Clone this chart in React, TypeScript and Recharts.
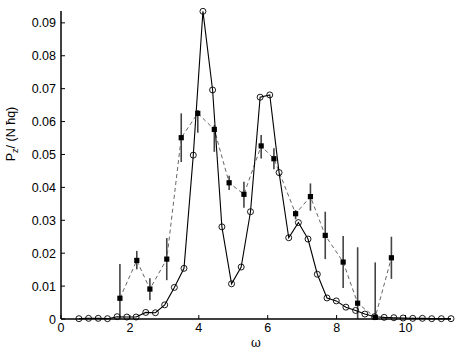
import React from 'react';
import { ComposedChart, Line, XAxis, YAxis, ErrorBar } from 'recharts';

// Theory curve (open circles, solid line)
const theoryX = [0.52, 0.80, 1.08, 1.35, 1.63, 1.91, 2.18, 2.46, 2.74, 3.01, 3.29, 3.57, 3.84, 4.12, 4.40, 4.67, 4.95, 5.23, 5.50, 5.78, 6.06, 6.33, 6.61, 6.89, 7.17, 7.44, 7.72, 7.99, 8.27, 8.55, 8.82, 9.10, 9.38, 9.66, 9.93, 10.21, 10.49, 10.76, 11.04, 11.32];
const theoryY = [0.0001, 0.0002, 0.0002, 0.0001, 0.0007, 0.0006, 0.0006, 0.0020, 0.0019, 0.0043, 0.0096, 0.0154, 0.0498, 0.0935, 0.0696, 0.0280, 0.0107, 0.0158, 0.0326, 0.0674, 0.0681, 0.0445, 0.0247, 0.0293, 0.0243, 0.0136, 0.0064, 0.0055, 0.0036, 0.0026, 0.0015, 0.0007, 0.0005, 0.0004, 0.0003, 0.0002, 0.0002, 0.0001, 0.0001, 0.0001];

// Measured points (filled squares, dashed line, error bars)
const measX = [1.71, 2.20, 2.58, 3.07, 3.49, 3.97, 4.45, 4.88, 5.31, 5.81, 6.18, 6.81, 7.24, 7.67, 8.19, 8.61, 9.12, 9.59];
const measY = [0.0063, 0.0178, 0.0091, 0.0182, 0.0551, 0.0625, 0.0576, 0.0414, 0.0379, 0.0526, 0.0487, 0.0320, 0.0372, 0.0254, 0.0173, 0.0048, 0.0005, 0.0186];
const measErrLow = [0.0063, 0.0027, 0.0034, 0.0064, 0.0074, 0.0059, 0.0068, 0.0022, 0.0041, 0.0038, 0.0032, 0.0017, 0.0043, 0.0072, 0.0079, 0.0048, 0.0005, 0.0064];
const measErrHigh = [0.0104, 0.0029, 0.0033, 0.0064, 0.0074, 0.0010, 0.0013, 0.0021, 0.0038, 0.0033, 0.0032, 0.0011, 0.0040, 0.0072, 0.0079, 0.0170, 0.0167, 0.0064];

const xTicks = [0, 2, 4, 6, 8, 10];
const yTicks = [0, 0.01, 0.02, 0.03, 0.04, 0.05, 0.06, 0.07, 0.08, 0.09];

const theoryData = theoryX.map((x, i) => ({ x, y: theoryY[i] }));
const measData = measX.map((x, i) => ({ x, y: measY[i], err: [measErrLow[i], measErrHigh[i]] }));

const FONT = 'Liberation Sans, Arial, Helvetica, sans-serif';

const XTick = (props: any) => {
  const { x, y, payload } = props;
  return (
    <g>
      <line x1={x} y1={y} x2={x} y2={y - 4} stroke="#000" strokeWidth={1} />
      <text x={x} y={y + 13} textAnchor="middle" fontSize={12.5} fontFamily={FONT} fill="#000">
        {payload.value}
      </text>
    </g>
  );
};

const YTick = (props: any) => {
  const { x, y, payload } = props;
  const v = payload.value;
  const label = v === 0 ? '0' : v.toFixed(2);
  return (
    <g>
      <line x1={x} y1={y} x2={x + 4} y2={y} stroke="#000" strokeWidth={1} />
      <text x={x - 5} y={y + 4.5} textAnchor="end" fontSize={12.5} fontFamily={FONT} fill="#000">
        {label}
      </text>
    </g>
  );
};

const YLabel = () => (
  <text
    x={15}
    y={134}
    transform="rotate(-90 15 134)"
    textAnchor="middle"
    fontSize={12.5}
    fontFamily={FONT}
    fill="#000"
  >
    P<tspan fontSize={9} dy={3}>z</tspan>
    <tspan dy={-3}>/ (N ħq)</tspan>
  </text>
);

const XLabel = () => (
  <text x={256} y={347} textAnchor="middle" fontSize={12} fontFamily="DejaVu Serif, serif" fill="#000">
    ω
  </text>
);

const Square = (props: any) => {
  const { cx, cy, index } = props;
  if (cx == null || cy == null) return <g key={`s${index}`} />;
  return <rect key={`s${index}`} x={cx - 2.6} y={cy - 2.6} width={5.2} height={5.2} fill="#000" />;
};

const Circle = (props: any) => {
  const { cx, cy, index } = props;
  if (cx == null || cy == null) return <g key={`c${index}`} />;
  return <circle key={`c${index}`} cx={cx} cy={cy} r={3} fill="none" stroke="#000" strokeWidth={0.9} />;
};

export default function App() {
  return (
    <div style={{ position: 'absolute', left: 0, top: 0, width: 457, height: 353, background: '#fff' }}>
      <ComposedChart width={457} height={353} margin={{ top: 11, right: 6, bottom: 0, left: 0 }}>
        <XAxis
          type="number"
          dataKey="x"
          domain={[0, 11.32]}
          ticks={xTicks}
          interval={0}
          height={34}
          tickSize={0}
          tickMargin={0}
          tickLine={false}
          axisLine={{ stroke: '#000', strokeWidth: 1.5 }}
          tick={<XTick />}
          label={<XLabel />}
        />
        <YAxis
          type="number"
          dataKey="y"
          domain={[0, 0.0936]}
          ticks={yTicks}
          interval={0}
          width={61}
          tickSize={0}
          tickMargin={0}
          tickLine={false}
          axisLine={{ stroke: '#000', strokeWidth: 1.5 }}
          tick={<YTick />}
          label={<YLabel />}
        />
        <Line
          data={measData}
          dataKey="y"
          type="linear"
          stroke="#666"
          strokeWidth={1}
          strokeDasharray="4 3"
          dot={<Square />}
          activeDot={false}
          isAnimationActive={false}
        >
          <ErrorBar dataKey="err" direction="y" width={0} stroke="#444" strokeWidth={1.6} />
        </Line>
        <Line
          data={theoryData}
          dataKey="y"
          type="linear"
          stroke="#000"
          strokeWidth={1.1}
          dot={<Circle />}
          activeDot={false}
          isAnimationActive={false}
        />
      </ComposedChart>
    </div>
  );
}
